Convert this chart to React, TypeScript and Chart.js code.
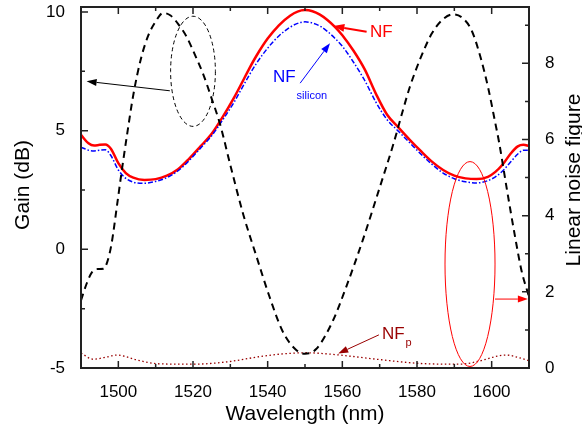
import React, { useEffect, useRef } from 'react';
import { Chart, registerables } from 'chart.js';

Chart.register(...registerables);

const FONT = '"Liberation Sans", Arial, Helvetica, sans-serif';

// ---- Data ----
const gainWavelength = [
  1490, 1491.5, 1493, 1494.5, 1496, 1497, 1498.2, 1499.6, 1501, 1502.5, 1504, 1506, 1508, 1510, 1512, 1514,
  1516, 1518.3, 1520.5, 1522.8, 1525, 1527.2, 1530, 1533.5, 1537, 1540.5, 1544, 1547.5, 1550, 1553, 1557.5,
  1561, 1565.5, 1570, 1573.7, 1576.3, 1578.1, 1580.8, 1584, 1587, 1589.7, 1592.4, 1594.7, 1597, 1599, 1601,
  1602, 1604, 1606.3, 1608, 1610,
];
const gainValues = [
  -2.15, -1.45, -0.95, -0.83, -0.82, -0.55, 0.25, 1.8, 3.4, 5.0, 6.5, 8.0, 9.0, 9.6, 9.96, 9.85,
  9.5, 8.95, 8.2, 7.35, 6.35, 5.3, 3.55, 1.45, -0.3, -2.0, -3.45, -4.22, -4.4, -4.2, -3.0,
  -1.6, 0.4, 2.6, 4.45, 5.9, 6.85, 8.0, 9.1, 9.7, 9.9, 9.72, 9.2, 8.1, 6.85, 5.3,
  4.5, 2.6, 0.5, -0.9, -2.0,
];

const nfWavelength = [
  1490, 1492, 1493.5, 1495, 1496.5, 1498, 1500, 1502, 1504, 1507, 1510, 1513, 1516, 1519, 1522, 1525,
  1528, 1531, 1533, 1535, 1537, 1540, 1543, 1546, 1548, 1550, 1552, 1554, 1556, 1558, 1560, 1563, 1566, 1569,
  1572, 1575, 1578, 1581, 1584, 1587, 1590, 1593, 1596, 1599, 1601, 1603, 1605, 1607, 1608.5, 1610,
];
const nfValues = [
  6.12, 5.9, 5.84, 5.86, 5.87, 5.76, 5.38, 5.12, 5.0, 4.94, 4.96, 5.05, 5.22, 5.5, 5.82, 6.15,
  6.6, 7.1, 7.47, 7.85, 8.2, 8.65, 9.0, 9.25, 9.36, 9.4, 9.37, 9.28, 9.14, 8.96, 8.74, 8.33, 7.84, 7.2,
  6.65, 6.32, 6.0, 5.7, 5.42, 5.2, 5.05, 4.98, 4.96, 5.02, 5.15, 5.35, 5.62, 5.82, 5.86, 5.83,
];
const nfSiliconValues = [
  5.8, 5.72, 5.7, 5.72, 5.73, 5.58, 5.2, 4.98, 4.88, 4.85, 4.9, 5.0, 5.18, 5.45, 5.77, 6.1,
  6.52, 6.98, 7.33, 7.68, 8.0, 8.4, 8.72, 8.95, 9.05, 9.09, 9.06, 8.98, 8.84, 8.66, 8.45, 8.03, 7.55, 6.98,
  6.52, 6.22, 5.92, 5.62, 5.35, 5.12, 4.97, 4.89, 4.86, 4.92, 5.02, 5.18, 5.4, 5.62, 5.72, 5.72,
];

const nfpWavelength = [
  1490, 1493.3, 1496.5, 1499.6, 1502, 1505, 1511, 1520, 1529, 1538, 1544, 1550.5, 1556, 1560.3, 1569.2,
  1580.8, 1591.5, 1597, 1601, 1604, 1607, 1610,
];
const nfpValues = [
  0.39, 0.23, 0.28, 0.34, 0.3, 0.21, 0.11, 0.1, 0.16, 0.3, 0.37, 0.4, 0.37, 0.33, 0.23,
  0.12, 0.1, 0.19, 0.3, 0.34, 0.28, 0.19,
];

// ---- Ticks ----
const xLabelTicks = [1500, 1520, 1540, 1560, 1580, 1600];
const xMinorTicks = [1490, 1510, 1530, 1550, 1570, 1590, 1610];
const gainLabelTicks = [-5, 0, 5, 10];
const gainMinorTicks = [-2.5, 2.5, 7.5];
const nfLabelTicks = [0, 2, 4, 6, 8];
const nfMinorTicks = [1, 3, 5, 7, 9];

const X_MIN = 1490;
const X_MAX = 1610;
const GAIN_MIN = -5;
const GAIN_MAX = 10.21;
const NF_MIN = 0;
const NF_MAX = 9.48;

const pairs = (xs: number[], ys: number[]) => xs.map((x, i) => ({ x, y: ys[i] }));

function arrow(ctx: CanvasRenderingContext2D, x1: number, y1: number, x2: number, y2: number, color: string, lw = 1, head = 10, hw = 3.5) {
  const ang = Math.atan2(y2 - y1, x2 - x1);
  const bx = x2 - head * Math.cos(ang);
  const by = y2 - head * Math.sin(ang);
  ctx.save();
  ctx.strokeStyle = color;
  ctx.fillStyle = color;
  ctx.lineWidth = lw;
  ctx.setLineDash([]);
  ctx.beginPath();
  ctx.moveTo(x1, y1);
  ctx.lineTo(bx, by);
  ctx.stroke();
  ctx.beginPath();
  ctx.moveTo(x2, y2);
  ctx.lineTo(bx + hw * Math.sin(ang), by - hw * Math.cos(ang));
  ctx.lineTo(bx - hw * Math.sin(ang), by + hw * Math.cos(ang));
  ctx.closePath();
  ctx.fill();
  ctx.restore();
}

const framePlugin = {
  id: 'frameTicks',
  afterDraw(chart: any) {
    const { ctx, chartArea: a, scales } = chart;
    const sx = scales.x, sy = scales.y, sy2 = scales.y2;
    ctx.save();
    ctx.strokeStyle = '#222';
    ctx.lineWidth = 1.5;
    ctx.beginPath();
    const xt = (vals: number[], len: number) => {
      vals.forEach((v) => {
        const p = sx.getPixelForValue(v);
        ctx.moveTo(p, a.bottom); ctx.lineTo(p, a.bottom - len);
        ctx.moveTo(p, a.top); ctx.lineTo(p, a.top + len);
      });
    };
    xt(xLabelTicks, 7);
    xt(xMinorTicks, 4);
    gainLabelTicks.forEach((v) => { const p = sy.getPixelForValue(v); ctx.moveTo(a.left, p); ctx.lineTo(a.left + 7, p); });
    gainMinorTicks.forEach((v) => { const p = sy.getPixelForValue(v); ctx.moveTo(a.left, p); ctx.lineTo(a.left + 4, p); });
    nfLabelTicks.forEach((v) => { const p = sy2.getPixelForValue(v); ctx.moveTo(a.right, p); ctx.lineTo(a.right - 7, p); });
    nfMinorTicks.forEach((v) => { const p = sy2.getPixelForValue(v); ctx.moveTo(a.right, p); ctx.lineTo(a.right - 4, p); });
    ctx.stroke();
    ctx.lineWidth = 2;
    ctx.strokeRect(a.left, a.top, a.right - a.left, a.bottom - a.top);

    // axis titles
    ctx.fillStyle = '#000';
    ctx.font = `21px ${FONT}`;
    ctx.textAlign = 'center';
    ctx.textBaseline = 'alphabetic';
    ctx.fillText('Wavelength (nm)', (a.left + a.right) / 2, a.bottom + 52);
    ctx.save();
    ctx.translate(a.left - 52.5, 185);
    ctx.rotate(-Math.PI / 2);
    ctx.fillText('Gain (dB)', 0, 0);
    ctx.restore();
    ctx.save();
    ctx.translate(a.right + 51, 180);
    ctx.rotate(-Math.PI / 2);
    ctx.fillText('Linear noise figure', 0, 0);
    ctx.restore();
    ctx.restore();
  },
};

const annotPlugin = {
  id: 'annotations',
  afterDatasetsDraw(chart: any) {
    const { ctx, scales } = chart;
    const X = (v: number) => scales.x.getPixelForValue(v);
    const G = (v: number) => scales.y.getPixelForValue(v);
    const N = (v: number) => scales.y2.getPixelForValue(v);
    ctx.save();

    // black dashed ellipse around gain peak + arrow to the left axis
    const ecx = X(1520), ecy = G(7.5);
    const erx = X(1526) - X(1520), ery = G(7.5) - G(9.82);
    ctx.strokeStyle = '#000';
    ctx.lineWidth = 1;
    ctx.setLineDash([4, 3]);
    ctx.beginPath();
    ctx.ellipse(ecx, ecy, erx, ery, 0, 0, Math.PI * 2);
    ctx.stroke();
    ctx.setLineDash([]);
    arrow(ctx, X(1513.8), G(6.68), X(1491.5), G(7.08), '#000', 1);

    // red ellipse around NF min + arrow to the right axis
    const rcx = X(1594.2), rcy = N(2.73);
    const rrx = X(1600.9) - X(1594.2), rry = N(2.73) - N(5.42);
    ctx.strokeStyle = '#ff0000';
    ctx.lineWidth = 1;
    ctx.beginPath();
    ctx.ellipse(rcx, rcy, rrx, rry, 0, 0, Math.PI * 2);
    ctx.stroke();
    arrow(ctx, X(1600.9), N(1.81), X(1609.7), N(1.81), '#ff0000', 1);

    // NF label
    arrow(ctx, X(1566.5), N(8.83), X(1557.6), N(8.98), '#ff0000', 2, 11, 4);
    ctx.fillStyle = '#ff0000';
    ctx.font = `17px ${FONT}`;
    ctx.textAlign = 'left';
    ctx.textBaseline = 'alphabetic';
    ctx.fillText('NF', X(1567.4), N(8.69));

    // NF silicon label
    arrow(ctx, X(1548.7), N(7.48), X(1556.7), N(8.53), '#0000ff', 1, 10, 3.5);
    ctx.fillStyle = '#0000ff';
    ctx.font = `17px ${FONT}`;
    const nx = X(1541.4), ny = N(7.51);
    ctx.fillText('NF', nx, ny);
    const w1 = ctx.measureText('NF').width;
    ctx.font = `11px ${FONT}`;
    ctx.fillText('silicon', nx + w1 + 1, ny + 17);

    // NFp label
    arrow(ctx, X(1569.8), N(0.87), X(1558.9), N(0.38), '#990000', 1, 10, 3.5);
    ctx.fillStyle = '#990000';
    ctx.font = `17px ${FONT}`;
    const px = X(1570.6), py = N(0.75);
    ctx.fillText('NF', px, py);
    const w2 = ctx.measureText('NF').width;
    ctx.font = `11px ${FONT}`;
    ctx.fillText('p', px + w2 + 1, py + 7);

    ctx.restore();
  },
};

export default function App() {
  const ref = useRef<HTMLCanvasElement>(null);
  useEffect(() => {
    const canvas = ref.current;
    if (!canvas) return;
    const tickFont = { family: FONT, size: 17 };
    const noPad = (s: any) => { s.paddingTop = 0; s.paddingBottom = 0; s.paddingLeft = 0; s.paddingRight = 0; };
    const chart = new Chart(canvas, {
      type: 'line',
      data: {
        datasets: [
          {
            label: 'Gain',
            data: pairs(gainWavelength, gainValues),
            yAxisID: 'y',
            borderColor: '#000000',
            borderWidth: 2,
            borderDash: [7, 5],
            pointRadius: 0,
            fill: false,
            cubicInterpolationMode: 'monotone',
            order: 0,
          },
          {
            label: 'NF silicon',
            data: pairs(nfWavelength, nfSiliconValues),
            yAxisID: 'y2',
            borderColor: '#0000ff',
            borderWidth: 1.5,
            borderDash: [5, 2, 1.5, 2],
            pointRadius: 0,
            fill: false,
            cubicInterpolationMode: 'monotone',
            order: 1,
          },
          {
            label: 'NF',
            data: pairs(nfWavelength, nfValues),
            yAxisID: 'y2',
            borderColor: '#ff0000',
            borderWidth: 2.5,
            pointRadius: 0,
            fill: false,
            cubicInterpolationMode: 'monotone',
            order: 2,
          },
          {
            label: 'NFp',
            data: pairs(nfpWavelength, nfpValues),
            yAxisID: 'y2',
            borderColor: '#990000',
            borderWidth: 1.3,
            borderDash: [1.5, 2.5],
            pointRadius: 0,
            fill: false,
            cubicInterpolationMode: 'monotone',
            order: 3,
          },
        ],
      },
      options: {
        responsive: false,
        animation: false,
        devicePixelRatio: 1,
        layout: { padding: { top: 7, left: 0, right: 0, bottom: 0 } },
        plugins: { legend: { display: false }, tooltip: { enabled: false } },
        scales: {
          x: {
            type: 'linear',
            position: 'bottom',
            min: X_MIN,
            max: X_MAX,
            grid: { display: false },
            border: { display: false },
            ticks: { font: tickFont, color: '#000', padding: 6, maxRotation: 0, minRotation: 0, autoSkip: false, callback: (v: any) => String(v) },
            afterBuildTicks: (s: any) => { s.ticks = xLabelTicks.map((value) => ({ value })); },
            afterFit: (s: any) => { s.height = 63; noPad(s); },
          },
          y: {
            type: 'linear',
            position: 'left',
            min: GAIN_MIN,
            max: GAIN_MAX,
            grid: { display: false },
            border: { display: false },
            ticks: { font: tickFont, color: '#000', padding: 8, autoSkip: false, callback: (v: any) => String(v) },
            afterBuildTicks: (s: any) => { s.ticks = gainLabelTicks.map((value) => ({ value })); },
            afterFit: (s: any) => { s.width = 81; noPad(s); },
          },
          y2: {
            type: 'linear',
            position: 'right',
            min: NF_MIN,
            max: NF_MAX,
            grid: { display: false },
            border: { display: false },
            ticks: { font: tickFont, color: '#000', padding: 8, autoSkip: false, callback: (v: any) => String(v) },
            afterBuildTicks: (s: any) => { s.ticks = nfLabelTicks.map((value) => ({ value })); },
            afterFit: (s: any) => { s.width = 53; noPad(s); },
          },
        },
      },
      plugins: [annotPlugin, framePlugin],
    } as any);
    return () => chart.destroy();
  }, []);
  return (
    <div style={{ position: 'fixed', left: 0, top: 0, width: 582, height: 431, background: '#fff' }}>
      <canvas ref={ref} width={582} height={431} style={{ display: 'block', width: 582, height: 431 }} />
    </div>
  );
}
